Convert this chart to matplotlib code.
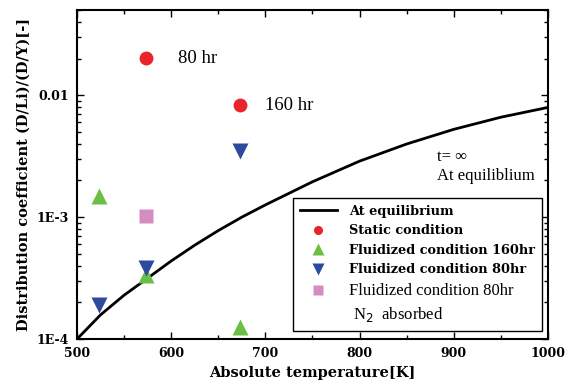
import matplotlib
matplotlib.use("Agg")
import matplotlib.pyplot as plt
from matplotlib.lines import Line2D
from matplotlib.ticker import FixedLocator, LogLocator, NullFormatter, MultipleLocator

# Equilibrium curve
eq_T = [500, 525, 550, 575, 600, 625, 650, 675, 700, 750, 800, 850, 900, 950, 1000]
eq_D = [1.0e-4, 1.58e-4, 2.29e-4, 3.16e-4, 4.37e-4, 5.89e-4, 7.76e-4, 1.0e-3,
        1.26e-3, 1.95e-3, 2.88e-3, 3.98e-3, 5.25e-3, 6.6e-3, 7.94e-3]

static_T = [573, 673]
static_D = [0.0201, 0.0083]

fl160_T = [523, 573, 673]
fl160_D = [1.5e-3, 3.35e-4, 1.25e-4]

fl80_T = [523, 573, 673]
fl80_D = [1.9e-4, 3.8e-4, 3.5e-3]

n2_T = [573]
n2_D = [1.02e-3]

yticks = [1e-4, 1e-3, 1e-2]
ytick_labels = ["1E-4", "1E-3", "0.01"]
xticks = [500, 600, 700, 800, 900, 1000]

serif_b = dict(family="DejaVu Serif", weight="bold")
serif_n = dict(family="Liberation Serif")

fig = plt.figure(figsize=(5.72, 3.84), dpi=100)
ax = fig.add_axes([0.1346, 0.117, 0.958 - 0.1346, 0.974 - 0.117])

red = "#E8252A"
green = "#6DBE45"
blue = "#2D4A9E"
pink = "#D58CC0"

ax.plot(eq_T, eq_D, color="black", lw=2.0, zorder=2)
ax.plot(static_T, static_D, "o", color=red, ms=10, mec="none", zorder=3)
ax.plot(fl160_T, fl160_D, "^", color=green, ms=11, mec="none", zorder=3)
ax.plot(fl80_T, fl80_D, "v", color=blue, ms=11, mec="none", zorder=3)
ax.plot(n2_T, n2_D, "s", color=pink, ms=10, mec="none", zorder=3)

ax.set_yscale("log")
ax.set_xlim(500, 1000)
ax.set_ylim(1e-4, 0.05)
ax.yaxis.set_major_locator(FixedLocator(yticks))
ax.set_yticklabels(ytick_labels, **serif_b, fontsize=9)
ax.yaxis.set_minor_locator(LogLocator(base=10, subs=range(2, 10)))
ax.yaxis.set_minor_formatter(NullFormatter())
ax.xaxis.set_major_locator(FixedLocator(xticks))
ax.set_xticklabels([str(t) for t in xticks], **serif_b, fontsize=9)
ax.xaxis.set_minor_locator(MultipleLocator(50))

ax.tick_params(which="both", direction="in", top=True, right=True, width=1.0)
ax.tick_params(which="major", length=5, pad=6)
ax.tick_params(which="minor", length=3)
for s in ax.spines.values():
    s.set_linewidth(1.5)

ax.set_xlabel("Absolute temperature[K]", **serif_b, fontsize=10.5, labelpad=4)
ax.set_ylabel("Distribution coefficient (D/Li)/(D/Y)[-]", **serif_b, fontsize=10.5, labelpad=4)

ax.text(607, 0.0201, "80 hr", **serif_n, fontsize=13.5, va="center", ha="left")
ax.text(700, 0.0083, "160 hr", **serif_n, fontsize=13.5, va="center", ha="left")
ax.text(882, 3.1e-3, "t= \u221e", **serif_n, fontsize=12, va="center", ha="left")
ax.text(882, 2.17e-3, "At equiliblium", **serif_n, fontsize=12, va="center", ha="left")

handles = [
    Line2D([], [], color="black", lw=2),
    Line2D([], [], ls="none", marker="o", color=red, mec="none", ms=6.5),
    Line2D([], [], ls="none", marker="^", color=green, mec="none", ms=8),
    Line2D([], [], ls="none", marker="v", color=blue, mec="none", ms=8),
    Line2D([], [], ls="none", marker="s", color=pink, mec="none", ms=6.5),
    Line2D([], [], ls="none"),
]
labels = ["At equilibrium", "Static condition", "Fluidized condition 160hr",
          "Fluidized condition 80hr", "Fluidized condition 80hr", " N$_2$  absorbed"]
leg = ax.legend(handles, labels, loc="lower right", bbox_to_anchor=(0.987, 0.024),
                borderaxespad=0, prop={"size": 9.3},
                fancybox=False, edgecolor="black", framealpha=1, handlelength=2.9,
                labelspacing=0.5, borderpad=0.55, handletextpad=0.9)
leg.get_frame().set_linewidth(1.0)
for i, t in enumerate(leg.get_texts()):
    if i < 4:
        t.set_fontfamily("DejaVu Serif")
        t.set_fontweight("bold")
        t.set_fontsize(9.3)
    else:
        t.set_fontfamily("Liberation Serif")
        t.set_fontsize(12)

fig.savefig("out.png", dpi=100)
